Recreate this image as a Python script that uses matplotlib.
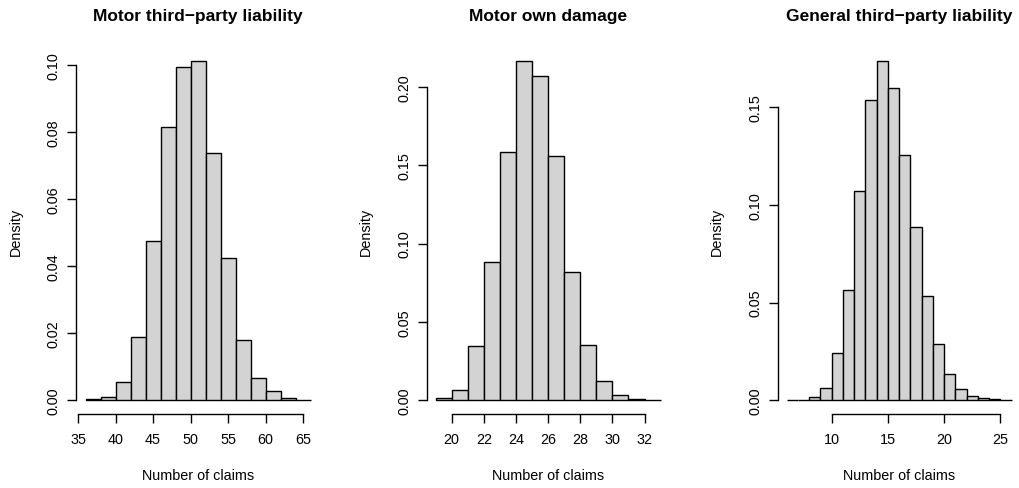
import matplotlib
matplotlib.use('Agg')
import matplotlib.pyplot as plt
import numpy as np

plt.rcParams['font.family'] = ['Liberation Sans', 'DejaVu Sans']

titles = ['Motor third\u2212party liability', 'Motor own damage', 'General third\u2212party liability']

# bin edges and densities
mtpl_breaks = np.arange(36, 67, 2)
mtpl_density = [0.0003, 0.0010, 0.0055, 0.0188, 0.0476, 0.0816, 0.0995, 0.1012,
                0.0737, 0.0425, 0.0181, 0.0067, 0.0028, 0.0006, 0.0001]
mtpl_ticks = [35, 40, 45, 50, 55, 60, 65]
mtpl_yticks = [0.00, 0.02, 0.04, 0.06, 0.08, 0.10]

mod_breaks = np.arange(19, 34, 1)
mod_density = [0.0015, 0.0064, 0.0350, 0.0880, 0.1584, 0.2164, 0.2068, 0.1560,
               0.0818, 0.0353, 0.0124, 0.0032, 0.0009, 0.0003]
mod_ticks = [20, 22, 24, 26, 28, 30, 32]
mod_yticks = [0.00, 0.05, 0.10, 0.15, 0.20]

gtpl_breaks = np.arange(6, 27, 1)
gtpl_density = [0.0002, 0.0, 0.0019, 0.0065, 0.0243, 0.0567, 0.1073, 0.1534, 0.1736,
                0.1599, 0.1255, 0.0885, 0.0535, 0.0291, 0.0133, 0.0058, 0.0024,
                0.0014, 0.0007, 0.0003]
gtpl_ticks = [10, 15, 20, 25]
gtpl_yticks = [0.00, 0.05, 0.10, 0.15]

panels = [
    (mtpl_breaks, mtpl_density, mtpl_ticks, mtpl_yticks),
    (mod_breaks, mod_density, mod_ticks, mod_yticks),
    (gtpl_breaks, gtpl_density, gtpl_ticks, gtpl_yticks),
]

W, H = 1020, 489
fig = plt.figure(figsize=(W / 100, H / 100), dpi=100)

lefts = [76.5, 426.6, 777.7]
pw = 243.0
top_px, bot_px = 48.4, 415.0

for i, (breaks, dens, xt, yt) in enumerate(panels):
    ax = fig.add_axes([lefts[i] / W, 1 - bot_px / H, pw / W, (bot_px - top_px) / H])
    widths = np.diff(breaks)
    ax.bar(breaks[:-1], dens, width=widths, align='edge', color='#D3D3D3',
           edgecolor='black', linewidth=1.0)

    # R style axis extension of 4%
    xr = breaks[-1] - breaks[0]
    ax.set_xlim(breaks[0] - 0.04 * xr, breaks[-1] + 0.04 * xr)
    ym = max(dens)
    ax.set_ylim(-0.04 * ym, 1.04 * ym)

    for s in ['top', 'right']:
        ax.spines[s].set_visible(False)
    ax.spines['left'].set_bounds(yt[0], yt[-1])
    ax.spines['bottom'].set_bounds(xt[0], xt[-1])
    ax.spines['left'].set_linewidth(1.0)
    ax.spines['bottom'].set_linewidth(1.0)

    ax.set_xticks(xt)
    ax.set_xticklabels([str(v) for v in xt])
    ax.set_yticks(yt)
    ax.set_yticklabels(['%.2f' % v for v in yt], rotation=90, va='center')
    ax.tick_params(axis='both', direction='out', length=6.2, width=1.0, labelsize=10.4)
    ax.tick_params(axis='x', pad=7)
    ax.tick_params(axis='y', pad=5)

    ax.set_title(titles[i], fontsize=12.5, fontweight='bold', y=1.088, va='center', pad=0)
    ax.set_xlabel('Number of claims', fontsize=10.4)
    ax.xaxis.set_label_coords(0.5, -0.166)
    ax.xaxis.label.set_va('center')
    ax.set_ylabel('Density', fontsize=10.4)
    ax.yaxis.set_label_coords(-0.25, 0.5)
    ax.yaxis.label.set_va('center')

fig.savefig('out.png', dpi=100)
